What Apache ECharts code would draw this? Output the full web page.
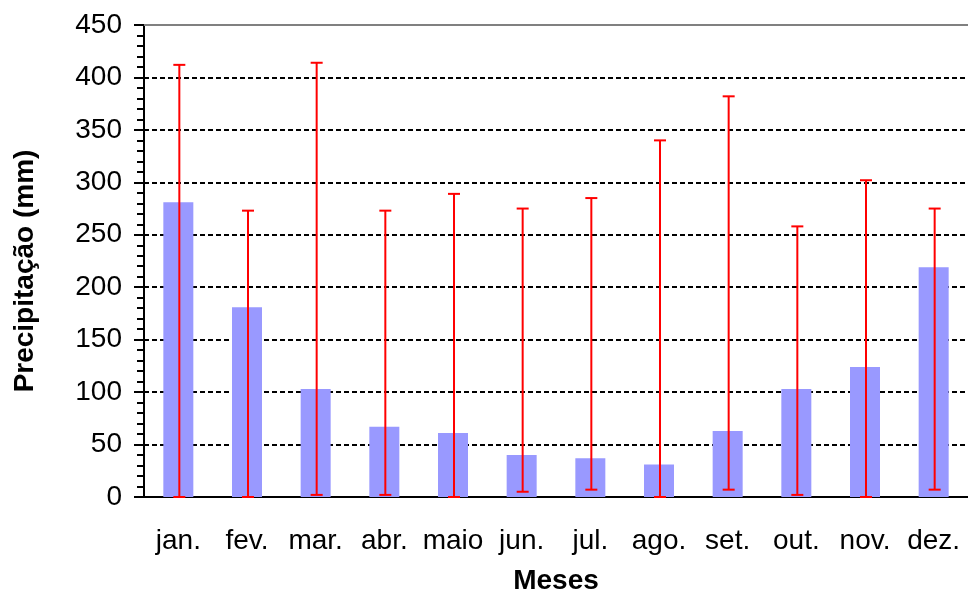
<!DOCTYPE html>
<html>
<head>
<meta charset="utf-8">
<script src="https://cdn.jsdelivr.net/npm/echarts@6/dist/echarts.min.js"></script>
<style>
  html, body { margin: 0; padding: 0; background: #fff; }
  #chart { width: 968px; height: 594px; }
</style>
</head>
<body>
<div id="chart"></div>
<script>
// monthly precipitation: mean bars with min/max range
const months = ['jan.', 'fev.', 'mar.', 'abr.', 'maio', 'jun.', 'jul.', 'ago.', 'set.', 'out.', 'nov.', 'dez.'];
const means = [281, 181, 103, 67, 61, 40, 37, 31, 63, 103, 124, 219];
const mins = [0, 0, 2, 2, 0, 5, 7, 0, 7, 2, 0, 7];
const maxs = [412, 273, 414, 273, 289, 275, 285, 340, 382, 258, 302, 275];
const yTicks = { min: 0, max: 450, interval: 50 };

const FONT = 'Liberation Sans, Arial, sans-serif';

const chart = echarts.init(document.getElementById('chart'));

const rangeData = months.map((m, i) => [i, mins[i], maxs[i]]);

chart.setOption({
  animation: false,
  grid: { left: 144, right: 0, top: 25, bottom: 97, containLabel: false, outerBoundsMode: 'none' },
  xAxis: [
    {
      type: 'category',
      data: months,
      name: 'Meses',
      nameLocation: 'middle',
      nameGap: 70,
      nameTextStyle: { color: '#000', fontSize: 28, fontWeight: 'bold', fontFamily: FONT },
      axisLine: { lineStyle: { color: '#000', width: 2 } },
      axisTick: { length: 9, lineStyle: { color: '#000', width: 2 } },
      axisLabel: { color: '#000', fontSize: 28, fontFamily: FONT, margin: 30, interval: 0 },
    },
    {
      // top border line of the plot
      type: 'category',
      position: 'top',
      data: months,
      axisLine: { show: true, lineStyle: { color: '#808080', width: 2 } },
      axisTick: { show: false },
      axisLabel: { show: false },
    },
  ],
  yAxis: {
    type: 'value',
    min: yTicks.min,
    max: yTicks.max,
    interval: yTicks.interval,
    name: 'Precipitação (mm)',
    nameLocation: 'middle',
    nameGap: 105,
    nameTextStyle: {
      color: '#000', fontSize: 28, fontWeight: 'bold', fontFamily: FONT,
      padding: [0, 20, 0, 0],
    },
    axisLine: { show: true, lineStyle: { color: '#000', width: 2 } },
    axisTick: { show: true, length: 10, lineStyle: { color: '#000', width: 2 } },
    minorTick: { show: true, splitNumber: 5, length: 7, lineStyle: { color: '#000', width: 2 } },
    axisLabel: { color: '#000', fontSize: 28, fontFamily: FONT, margin: 22 },
    splitLine: { show: true, lineStyle: { color: '#000', width: 2, type: [5, 3] } },
  },
  series: [
    {
      name: 'Média',
      type: 'bar',
      data: means,
      barWidth: 30,
      itemStyle: { color: '#9999FF' },
      z: 2,
    },
    {
      name: 'Amplitude',
      type: 'custom',
      data: rangeData,
      z: 5,
      renderItem: (params, api) => {
        const idx = api.value(0);
        const lo = api.coord([idx, api.value(1)]);
        const hi = api.coord([idx, api.value(2)]);
        const x = lo[0] + 1;
        const cap = 6;
        const style = { stroke: '#FF0000', lineWidth: 2 };
        return {
          type: 'group',
          children: [
            { type: 'line', shape: { x1: x, y1: lo[1], x2: x, y2: hi[1] }, style },
            { type: 'line', shape: { x1: x - cap, y1: hi[1], x2: x + cap, y2: hi[1] }, style },
            { type: 'line', shape: { x1: x - cap, y1: lo[1], x2: x + cap, y2: lo[1] }, style },
          ],
        };
      },
    },
  ],
});
</script>
</body>
</html>
